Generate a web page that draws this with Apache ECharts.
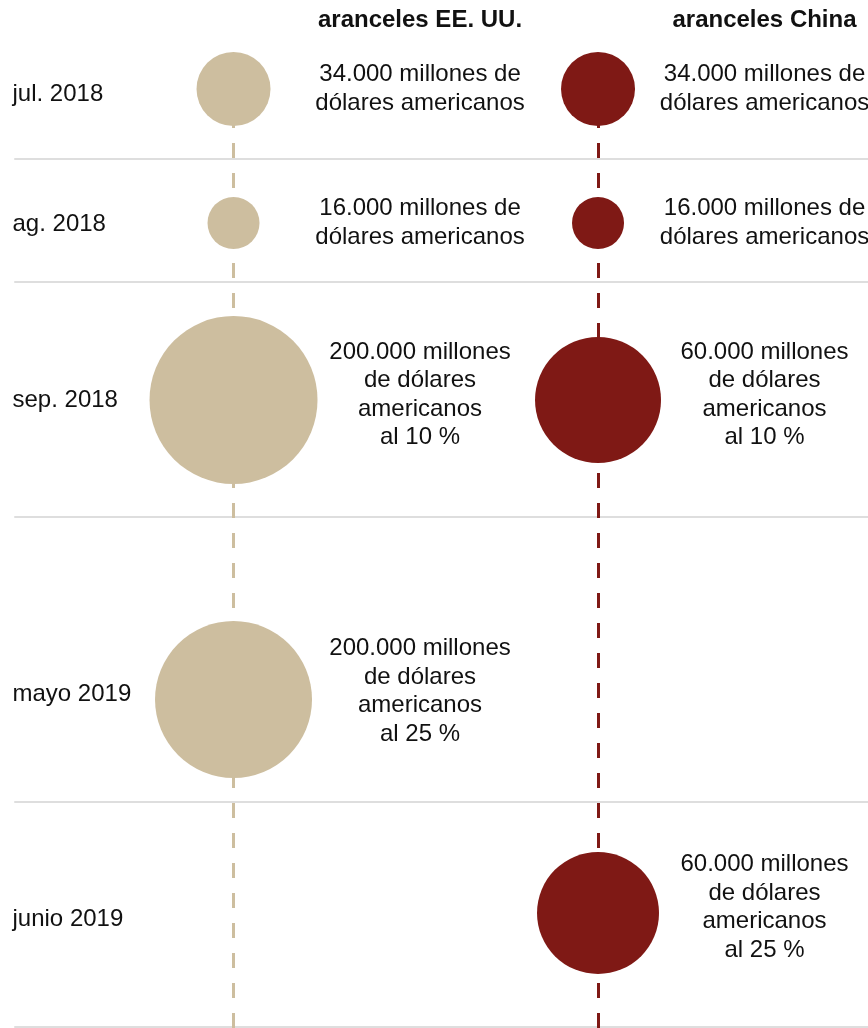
<!DOCTYPE html>
<html>
<head>
<meta charset="utf-8">
<script src="https://cdn.jsdelivr.net/npm/echarts@6/dist/echarts.min.js"></script>
<style>
html,body{margin:0;padding:0;background:#fff;}
#chart{width:868px;height:1028px;}
</style>
</head>
<body>
<div id="chart"></div>
<script>
// ---------- DATA ----------
const columnNames = ['aranceles EE. UU.', 'aranceles China'];
const rowLabels = ['jul. 2018', 'ag. 2018', 'sep. 2018', 'mayo 2019', 'junio 2019'];
// tariffs applied, in thousand millions of US dollars (null = no tariff that month)
const usValues = [34, 16, 200, 200, null];
const chinaValues = [34, 16, 60, null, 60];
const usText = [
  '34.000 millones de\ndólares americanos',
  '16.000 millones de\ndólares americanos',
  '200.000 millones\nde dólares\namericanos\nal 10 %',
  '200.000 millones\nde dólares\namericanos\nal 25 %',
  ''
];
const chinaText = [
  '34.000 millones de\ndólares americanos',
  '16.000 millones de\ndólares americanos',
  '60.000 millones\nde dólares\namericanos\nal 10 %',
  '',
  '60.000 millones\nde dólares\namericanos\nal 25 %'
];

// ---------- LAYOUT / STYLE ----------
const LAYOUT = {
  rowCenter: [89, 223, 400, 699.5, 913],
  rowBottom: [159, 282, 517, 802, 1027],
  usDiam: [74, 52, 168, 157, 0],
  cnDiam: [74, 52, 126, 0, 122],
  labelDy: [0, 0, -5, -8, -5.5],
  rowLabelDy: [5, 1.5, 0.5, -5.5, 6],
  gridLeft: 15,
  xMin: 0.4005,
  xMax: 2.7407,
  usLabelDx: 186.5,
  cnLabelDx: 166.5,
  titleY: 20,
  titleX: [420, 764.5],
  lineTop: 87
};
const COLORS = { us: '#cdbe9f', cn: '#7f1915', text: '#111111', sep: '#dedede' };
const FONT = 'Liberation Sans, Arial, Helvetica, sans-serif';

const chart = echarts.init(document.getElementById('chart'), null, { renderer: 'canvas' });

const grids = [], xAxes = [], yAxes = [], series = [];

// overlay grid for the dashed vertical guides
grids.push({ left: LAYOUT.gridLeft, right: 0, top: LAYOUT.lineTop, bottom: 0, containLabel: false });
xAxes.push({ type: 'value', gridIndex: 0, min: LAYOUT.xMin, max: LAYOUT.xMax, show: false });
yAxes.push({ type: 'value', gridIndex: 0, min: 0, max: 1, show: false });
series.push({
  type: 'line', xAxisIndex: 0, yAxisIndex: 0, data: [], z: 1, silent: true,
  markLine: {
    silent: true, symbol: 'none', label: { show: false }, animation: false,
    lineStyle: { type: [15, 15], width: 3 },
    data: [
      { xAxis: 1, lineStyle: { color: COLORS.us, type: [15, 15], width: 3 } },
      { xAxis: 2, lineStyle: { color: COLORS.cn, type: [15, 15], width: 3 } }
    ]
  }
});

rowLabels.forEach((lab, i) => {
  const gi = i + 1;
  const h = 2 * (LAYOUT.rowBottom[i] - LAYOUT.rowCenter[i]);
  grids.push({ left: LAYOUT.gridLeft, right: 0, top: LAYOUT.rowBottom[i] - h, height: h, containLabel: false });
  xAxes.push({
    type: 'value', gridIndex: gi, min: LAYOUT.xMin, max: LAYOUT.xMax,
    axisLine: { show: true, onZero: false, lineStyle: { color: COLORS.sep, width: 2 } },
    axisTick: { show: false }, axisLabel: { show: false }, splitLine: { show: false }
  });
  const dy = LAYOUT.rowLabelDy[i];
  yAxes.push({
    type: 'category', gridIndex: gi, data: [lab],
    axisLine: { show: false }, axisTick: { show: false }, splitLine: { show: false },
    axisLabel: {
      show: true, align: 'left', margin: 2.5, color: COLORS.text,
      fontFamily: FONT, fontSize: 24,
      formatter: (v) => '{r|' + v + '}',
      rich: {
        r: {
          color: COLORS.text, fontFamily: FONT, fontSize: 24, lineHeight: 28,
          padding: dy > 0 ? [2 * dy, 0, 0, 0] : [0, 0, -2 * dy, 0]
        }
      }
    }
  });
  const mk = (val, col, diam, text, dx, xIdx) => {
    if (val == null) return;
    series.push({
      type: 'scatter', xAxisIndex: gi, yAxisIndex: gi, z: 3, silent: true, animation: false,
      symbol: 'circle', symbolSize: diam,
      itemStyle: { color: col, opacity: 1 },
      label: {
        show: true, position: 'inside', offset: [dx, LAYOUT.labelDy[i]],
        formatter: () => text, color: COLORS.text, fontFamily: FONT, fontSize: 24,
        lineHeight: 28.5, align: 'center', verticalAlign: 'middle'
      },
      data: [[xIdx, lab, val]]
    });
  };
  mk(usValues[i], COLORS.us, LAYOUT.usDiam[i], usText[i], LAYOUT.usLabelDx, 1);
  mk(chinaValues[i], COLORS.cn, LAYOUT.cnDiam[i], chinaText[i], LAYOUT.cnLabelDx, 2);
});

chart.setOption({
  backgroundColor: '#ffffff',
  animation: false,
  grid: grids, xAxis: xAxes, yAxis: yAxes, series: series,
  graphic: columnNames.map((t, k) => ({
    type: 'text', x: LAYOUT.titleX[k], y: LAYOUT.titleY, silent: true,
    style: { text: t, fill: COLORS.text, font: 'bold 24px ' + FONT, textAlign: 'center', textVerticalAlign: 'middle' }
  }))
});
</script>
</body>
</html>
